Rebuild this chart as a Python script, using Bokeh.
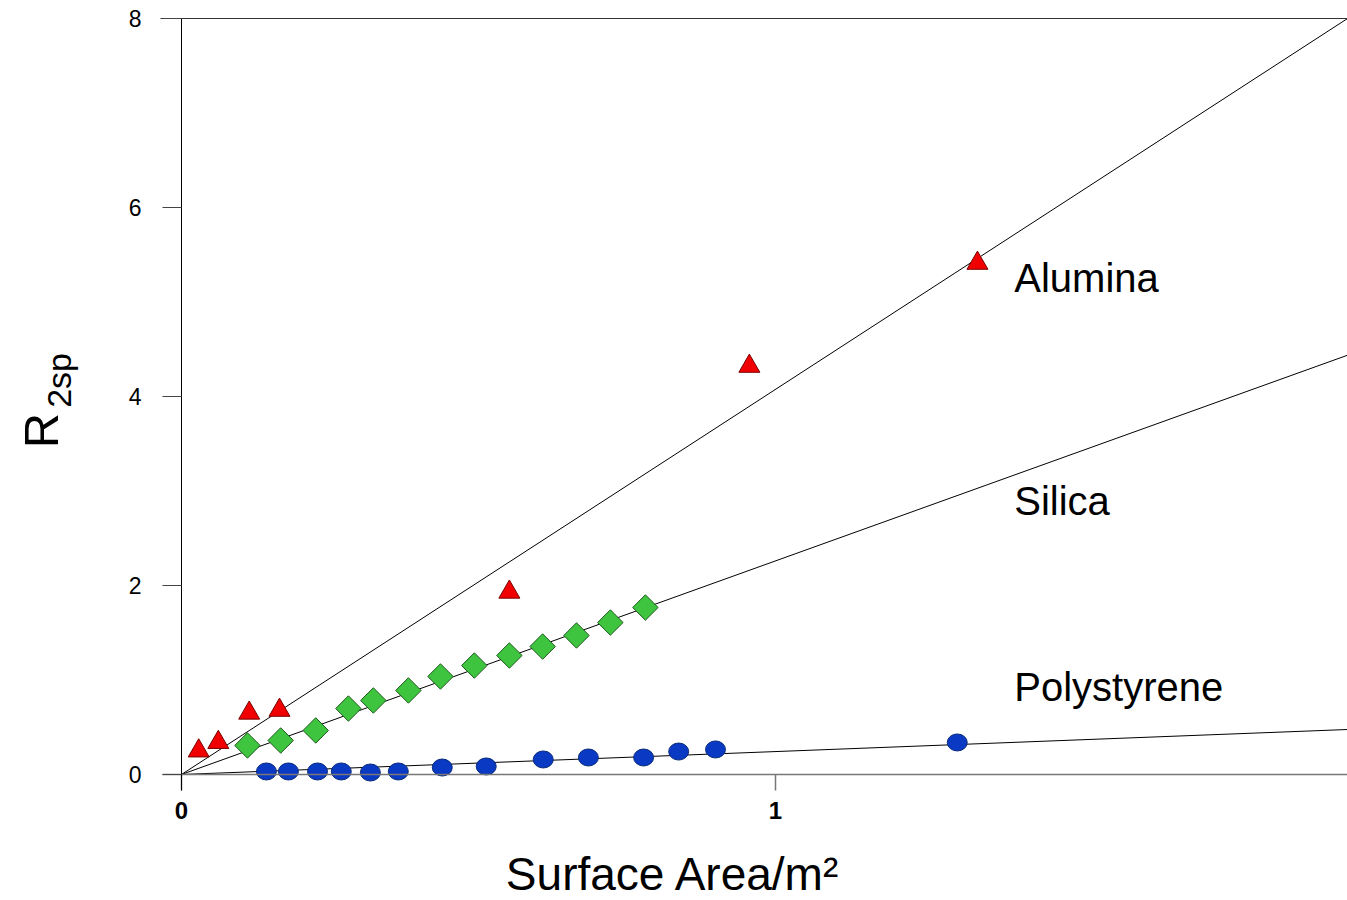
import math
from bokeh.plotting import figure
from bokeh.models import Range1d, LinearAxis, FixedTicker, Label
from bokeh.core.properties import value
from bokeh.embed import file_html
from bokeh.resources import INLINE

# ---- data ----
alumina_x = [0.029, 0.062, 0.114, 0.165, 0.552, 0.956, 1.340]
alumina_y = [0.25, 0.34, 0.65, 0.68, 1.93, 4.32, 5.41]

silica_x = [0.111, 0.167, 0.226, 0.281, 0.323, 0.382, 0.436, 0.493, 0.552, 0.608, 0.665, 0.722, 0.781]
silica_y = [0.307, 0.360, 0.466, 0.698, 0.783, 0.889, 1.037, 1.153, 1.259, 1.354, 1.471, 1.608, 1.767]

poly_x = [0.143, 0.180, 0.229, 0.269, 0.318, 0.365, 0.439, 0.513, 0.609, 0.685, 0.778, 0.837, 0.899, 1.306]
poly_y = [0.032, 0.032, 0.032, 0.032, 0.021, 0.032, 0.074, 0.085, 0.159, 0.180, 0.180, 0.243, 0.265, 0.339]

fit_x = [0.0, 2.0]
alumina_fit = [0.0, 8.15]
silica_fit = [0.0, 4.52]
poly_fit = [0.0, 0.485]

series_names = ["Alumina", "Silica", "Polystyrene"]
x_ticks = [0, 1, 2]
y_ticks = [0, 2, 4, 6, 8]

FONT = "Liberation Sans"

# frame covers the whole canvas; axes sit at fixed data locations
p = figure(width=1347, height=900, output_backend="svg", toolbar_location=None,
           x_range=Range1d(-0.3047, 1.963), y_range=Range1d(-1.3333, 8.190),
           min_border_left=0, min_border_right=0, min_border_top=0, min_border_bottom=0)
p.background_fill_color = "white"
p.border_fill_color = "white"
p.outline_line_color = None
p.xgrid.visible = False
p.ygrid.visible = False

# x axis
p.xaxis.fixed_location = 0
p.xaxis.bounds = (-0.032, 1.963)
p.xaxis.ticker = FixedTicker(ticks=x_ticks)
p.xaxis.axis_line_color = "#777777"
p.xaxis.axis_line_width = 1.5
p.xaxis.major_tick_line_color = "#777777"
p.xaxis.major_tick_line_width = 1.5
p.xaxis.major_tick_out = 16
p.xaxis.major_tick_in = 0
p.xaxis.minor_tick_line_color = None
p.xaxis.major_label_text_font = FONT
p.xaxis.major_label_text_font_style = "bold"
p.xaxis.major_label_text_font_size = "24px"
p.xaxis.major_label_text_color = "black"
p.xaxis.major_label_standoff = 12

# y axis
p.yaxis.fixed_location = 0
p.yaxis.bounds = (-0.169, 8.0)
p.yaxis.ticker = FixedTicker(ticks=y_ticks)
p.yaxis.axis_line_color = "black"
p.yaxis.axis_line_width = 1
p.yaxis.major_tick_line_color = "#444444"
p.yaxis.major_tick_out = 19
p.yaxis.major_tick_in = 0
p.yaxis.minor_tick_line_color = None
p.yaxis.major_label_text_font = FONT
p.yaxis.major_label_text_font_size = "23px"
p.yaxis.major_label_text_color = "black"
p.yaxis.major_label_standoff = 21

# top border line
top_axis = LinearAxis(fixed_location=8.0, bounds=(-0.035, 1.963), ticker=FixedTicker(ticks=[]),
                      major_label_text_font_size="0px", axis_line_color="#333333",
                      major_tick_line_color=None, minor_tick_line_color=None)
p.add_layout(top_axis, "above")

# fit lines
p.line(fit_x, alumina_fit, line_color="black", line_width=1)
p.line(fit_x, silica_fit, line_color="black", line_width=1)
p.line(fit_x, poly_fit, line_color="black", line_width=1)

# markers
p.ellipse(x=poly_x, y=poly_y, width=20, height=17, width_units="screen", height_units="screen",
          fill_color="#0a3ac4", line_color="#0a2a7a", line_width=1)
p.scatter(silica_x, silica_y, marker="square", angle=math.pi / 4, size=18,
          fill_color="#3fc43f", line_color="#1d5a1d", line_width=1)
p.scatter(alumina_x, alumina_y, marker="triangle", size=21,
          fill_color="#f00000", line_color="#7a0000", line_width=1)

# series labels
p.text(x=[1.402, 1.402, 1.402], y=[5.249, 2.899, 0.931], text=series_names,
       text_font=value(FONT), text_font_size="40px", text_color="black",
       text_align="left", text_baseline="middle")

# axis titles
p.add_layout(Label(x=0.828, y=-1.058, text="Surface Area/m²", text_font=FONT,
                   text_font_size="46px", text_align="center", text_baseline="middle",
                   text_color="black"))
p.add_layout(Label(x=-0.236, y=3.64, text="R", text_font=FONT, text_font_size="49px",
                   angle=math.pi / 2, text_align="center", text_baseline="middle",
                   text_color="black"))
p.add_layout(Label(x=-0.207, y=4.17, text="2sp", text_font=FONT, text_font_size="34px",
                   angle=math.pi / 2, text_align="center", text_baseline="middle",
                   text_color="black"))

open("out.html", "w").write(file_html(p, INLINE))
